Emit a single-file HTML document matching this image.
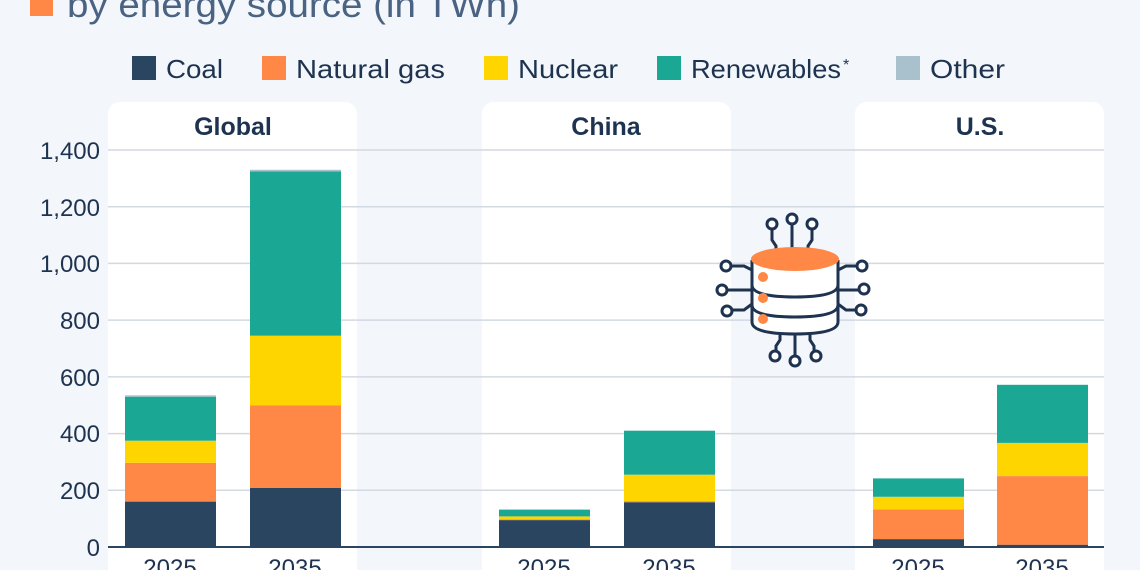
<!DOCTYPE html>
<html><head><meta charset="utf-8"><style>
html,body{margin:0;padding:0;background:#f3f6fa;}
svg{display:block;font-family:"Liberation Sans",sans-serif;}
</style></head><body>
<svg width="1140" height="570" viewBox="0 0 1140 570" xmlns="http://www.w3.org/2000/svg">
<rect width="1140" height="570" fill="#f3f6fa"/>
<rect x="30" y="-8" width="23" height="24" fill="#ff8847"/>
<text x="67" y="17" font-size="36" fill="#4a6383" textLength="453" lengthAdjust="spacingAndGlyphs">by energy source (in TWh)</text>
<g font-size="26" fill="#1e3350">
<rect x="132" y="56" width="24" height="24" fill="#2a4560"/><text x="166" y="78" textLength="57" lengthAdjust="spacingAndGlyphs">Coal</text>
<rect x="262" y="56" width="24" height="24" fill="#ff8847"/><text x="296" y="78" textLength="149" lengthAdjust="spacingAndGlyphs">Natural gas</text>
<rect x="484" y="56" width="24" height="24" fill="#ffd500"/><text x="518" y="78" textLength="100" lengthAdjust="spacingAndGlyphs">Nuclear</text>
<rect x="657" y="56" width="24" height="24" fill="#1aa895"/><text x="691" y="78" textLength="150" lengthAdjust="spacingAndGlyphs">Renewables</text><text x="843" y="70" font-size="16">*</text>
<rect x="896" y="56" width="24" height="24" fill="#a9c1cc"/><text x="930" y="78" textLength="75" lengthAdjust="spacingAndGlyphs">Other</text>
</g>
<rect x="108" y="102" width="249" height="480" rx="12" fill="#fff"/>
<rect x="482" y="102" width="249" height="480" rx="12" fill="#fff"/>
<rect x="855" y="102" width="249" height="480" rx="12" fill="#fff"/>
<g font-size="25" font-weight="bold" fill="#1e3350" text-anchor="middle">
<text x="233" y="135">Global</text><text x="606" y="135">China</text><text x="980" y="135">U.S.</text>
</g>
<g stroke="#d3d9e0" stroke-width="1.5">
<line x1="108" x2="1104" y1="150" y2="150"/><line x1="108" x2="1104" y1="206.7" y2="206.7"/>
<line x1="108" x2="1104" y1="263.4" y2="263.4"/><line x1="108" x2="1104" y1="320.1" y2="320.1"/>
<line x1="108" x2="1104" y1="376.9" y2="376.9"/><line x1="108" x2="1104" y1="433.6" y2="433.6"/>
<line x1="108" x2="1104" y1="490.3" y2="490.3"/>
</g>
<g font-size="24" fill="#1e3350" text-anchor="end">
<text x="100" y="159">1,400</text><text x="100" y="216">1,200</text><text x="100" y="272">1,000</text>
<text x="100" y="329">800</text><text x="100" y="386">600</text><text x="100" y="442">400</text>
<text x="100" y="499">200</text><text x="100" y="556">0</text>
</g>
<rect x="125" y="501.6" width="91" height="45.4" fill="#2a4560"/>
<rect x="125" y="462.8" width="91" height="38.8" fill="#ff8847"/>
<rect x="125" y="440.7" width="91" height="22.1" fill="#ffd500"/>
<rect x="125" y="396.7" width="91" height="44" fill="#1aa895"/>
<rect x="125" y="395.3" width="91" height="1.4" fill="#a9c1cc"/>
<rect x="250" y="488" width="91" height="59" fill="#2a4560"/>
<rect x="250" y="405.2" width="91" height="82.8" fill="#ff8847"/>
<rect x="250" y="335.7" width="91" height="69.5" fill="#ffd500"/>
<rect x="250" y="171.3" width="91" height="164.4" fill="#1aa895"/>
<rect x="250" y="169.8" width="91" height="1.5" fill="#a9c1cc"/>
<rect x="499" y="520.1" width="91" height="26.9" fill="#2a4560"/>
<rect x="499" y="519.2" width="91" height="0.9" fill="#ff8847"/>
<rect x="499" y="516.4" width="91" height="2.8" fill="#ffd500"/>
<rect x="499" y="509.6" width="91" height="6.8" fill="#1aa895"/>
<rect x="624" y="502.2" width="91" height="44.8" fill="#2a4560"/>
<rect x="624" y="501.1" width="91" height="1.1" fill="#ff8847"/>
<rect x="624" y="474.7" width="91" height="26.4" fill="#ffd500"/>
<rect x="624" y="430.7" width="91" height="44" fill="#1aa895"/>
<rect x="873" y="539.1" width="91" height="7.9" fill="#2a4560"/>
<rect x="873" y="509.3" width="91" height="29.8" fill="#ff8847"/>
<rect x="873" y="496.8" width="91" height="12.5" fill="#ffd500"/>
<rect x="873" y="478.4" width="91" height="18.4" fill="#1aa895"/>
<rect x="997" y="544.7" width="91" height="2.3" fill="#2a4560"/>
<rect x="997" y="476.1" width="91" height="68.6" fill="#ff8847"/>
<rect x="997" y="442.9" width="91" height="33.2" fill="#ffd500"/>
<rect x="997" y="384.8" width="91" height="58.1" fill="#1aa895"/>
<line x1="108" x2="1104" y1="547" y2="547" stroke="#2a4560" stroke-width="2"/>
<g font-size="24" fill="#1e3350" text-anchor="middle">
<text x="170" y="576">2025</text><text x="295" y="576">2035</text>
<text x="544" y="576">2025</text><text x="669" y="576">2035</text>
<text x="918" y="576">2025</text><text x="1042" y="576">2035</text>
</g>
<g stroke="#1e3350" stroke-width="3" fill="none">
<path d="M772 228 v12 l4 6 v6 M792 224 v26 M812 228 v12 l-4 6 v6"/>
<path d="M752 270 l-8 -4 h-14 M752 290 h-26 M752 304 l-8 6 h-14"/>
<path d="M838 270 l8 -4 h10 M838 290 h22 M838 304 l8 6 h10"/>
<path d="M780 330 v10 l-4 6 v6 M795 332 v26 M810 330 v10 l4 6 v6"/>
<circle cx="772" cy="224" r="5" fill="#fff"/><circle cx="792" cy="219" r="5" fill="#fff"/><circle cx="812" cy="224" r="5" fill="#fff"/>
<circle cx="726" cy="266" r="5" fill="#fff"/><circle cx="722" cy="290" r="5" fill="#fff"/><circle cx="727" cy="311" r="5" fill="#fff"/>
<circle cx="862" cy="266" r="5" fill="#fff"/><circle cx="864" cy="289" r="5" fill="#fff"/><circle cx="861" cy="310" r="5" fill="#fff"/>
<circle cx="775" cy="356" r="5" fill="#fff"/><circle cx="795" cy="361" r="5" fill="#fff"/><circle cx="816" cy="356" r="5" fill="#fff"/>
<path d="M752 260 v62 q0 12 43 12 q43 0 43 -12 v-62" fill="#fff"/>
<path d="M752 285 q0 12 43 12 q43 0 43 -12 M752 305 q0 12 43 12 q43 0 43 -12"/>
</g>
<ellipse cx="795" cy="259" rx="44" ry="12" fill="#ff8847"/>
<circle cx="763" cy="277" r="5" fill="#ff8847"/><circle cx="763" cy="298" r="5" fill="#ff8847"/><circle cx="763" cy="319" r="5" fill="#ff8847"/>
</svg>
</body></html>
